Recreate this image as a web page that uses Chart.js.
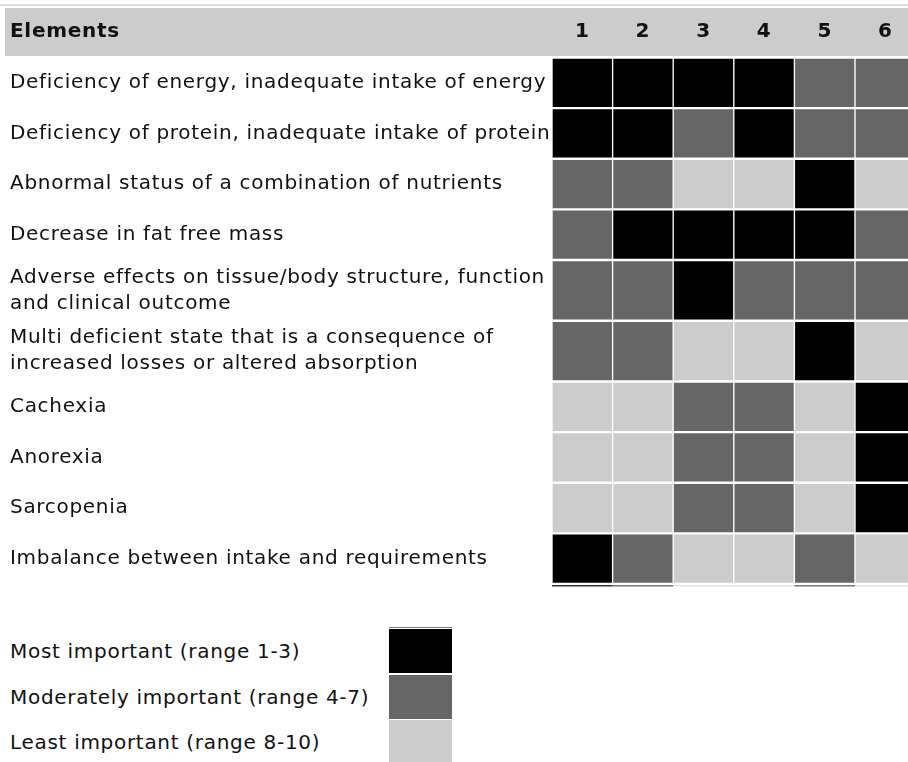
<!DOCTYPE html>
<html>
<head>
<meta charset="utf-8">
<script src="https://cdn.jsdelivr.net/npm/chart.js@4.4.1/dist/chart.umd.min.js"></script>
<style>
  html, body { margin: 0; padding: 0; background: #fff; overflow: hidden; }
  body { width: 908px; height: 762px; position: relative; font-family: "DejaVu Sans", Verdana, sans-serif; color: #111; }
  #wrap { position: absolute; left: 0; top: 0; width: 920px; height: 600px; }
  .legend { position: absolute; left: 0; top: 627px; width: 908px; }
  .legend .topline { position: absolute; left: 389px; top: 0; width: 63px; height: 1px; background: #777; }
  .item { position: absolute; left: 0; width: 908px; height: 44px; }
  .item span { position: absolute; left: 10px; top: 0; line-height: 44px; font-size: 20px; letter-spacing: 0.7px; white-space: nowrap; }
  .item i { position: absolute; left: 389px; top: 0; width: 63px; height: 44px; }
</style>
</head>
<body>
<div id="wrap"><canvas id="grid" width="920" height="600"></canvas></div>
<div class="legend" id="legend"><div class="topline"></div></div>
<script>
// rows of the table
const elements = [
  'Deficiency of energy, inadequate intake of energy',
  'Deficiency of protein, inadequate intake of protein',
  'Abnormal status of a combination of nutrients',
  'Decrease in fat free mass',
  ['Adverse effects on tissue/body structure, function', 'and clinical outcome'],
  ['Multi deficient state that is a consequence of', 'increased losses or altered absorption'],
  'Cachexia',
  'Anorexia',
  'Sarcopenia',
  'Imbalance between intake and requirements'
];
const columns = ['1', '2', '3', '4', '5', '6'];

// importance class per element, one array per column (1 = most, 2 = moderate, 3 = least)
const col1 = [1, 1, 2, 2, 2, 2, 3, 3, 3, 1];
const col2 = [1, 1, 2, 1, 2, 2, 3, 3, 3, 2];
const col3 = [1, 2, 3, 1, 1, 3, 2, 2, 2, 3];
const col4 = [1, 1, 3, 1, 2, 3, 2, 2, 2, 3];
const col5 = [2, 2, 1, 1, 2, 1, 3, 3, 3, 2];
const col6 = [2, 2, 3, 2, 2, 3, 1, 1, 1, 3];

const legendLabels = ['Most important (range 1-3)', 'Moderately important (range 4-7)', 'Least important (range 8-10)'];
const shades = { 1: '#000000', 2: '#666666', 3: '#cccccc' };
const edges = { 1: '#333333', 2: '#777777', 3: '#e4e4e4' };

const ranks = [col1, col2, col3, col4, col5, col6];
const FONT = '"DejaVu Sans", Verdana, sans-serif';
const SPACING = '0.7px';

// two-line rows are a bit taller
const weights = elements.map(e => Array.isArray(e) ? 1.2 : 1);
const total = weights.reduce((a, b) => a + b, 0);
const centers = [];
let acc = 0;
weights.forEach(w => { centers.push(acc + w / 2); acc += w; });

const datasets = elements.map((name, r) => ({
  label: Array.isArray(name) ? name.join(' ') : name,
  data: columns.map(() => weights[r]),
  backgroundColor: ranks.map(col => shades[col[r]]),
  borderColor: '#ffffff',
  borderWidth: { top: 1.5, bottom: 1.5, left: 1, right: 1 },
  borderSkipped: false,
  barPercentage: 1,
  categoryPercentage: 1
}));

const headerBand = {
  id: 'headerBand',
  beforeDraw(chart) {
    const ctx = chart.ctx;
    ctx.letterSpacing = SPACING;
    ctx.save();
    ctx.fillStyle = '#dddddd';
    ctx.fillRect(0, 4, 920, 2);
    ctx.fillStyle = '#cccccc';
    ctx.fillRect(5, 8, 915, 48);
    ctx.fillStyle = '#111111';
    ctx.font = 'bold 20px ' + FONT;
    ctx.textBaseline = 'middle';
    ctx.textAlign = 'left';
    ctx.fillText('Elements', 10, 32);
    ctx.restore();
  },
  afterDatasetsDraw(chart) {
    // thin rule under the last row, tinted like the cell above it
    const last = chart.data.datasets.length - 1;
    const meta = chart.getDatasetMeta(last);
    const ctx = chart.ctx;
    ctx.save();
    meta.data.forEach((bar, c) => {
      const { x, y, base, width } = bar.getProps(['x', 'y', 'base', 'width'], true);
      ctx.fillStyle = edges[ranks[c][last]];
      ctx.fillRect(x - width / 2, Math.max(y, base) + 1, width, 1.5);
    });
    ctx.restore();
  }
};

new Chart(document.getElementById('grid').getContext('2d'), {
  type: 'bar',
  data: { labels: columns, datasets },
  plugins: [headerBand],
  options: {
    responsive: false,
    animation: false,
    layout: { padding: { left: 10, right: 4.4, top: 0, bottom: 12.5 } },
    plugins: { legend: { display: false }, tooltip: { enabled: false } },
    scales: {
      x: {
        position: 'top',
        stacked: true,
        grid: { display: false, drawTicks: false },
        border: { display: false },
        ticks: { color: '#111', padding: 14, font: { family: FONT, size: 20, weight: 'bold' } },
        afterFit: s => { s.height = 57.5; }
      },
      y: {
        stacked: true,
        reverse: true,
        min: 0,
        max: total,
        grid: { display: false, drawTicks: false },
        border: { display: false },
        afterBuildTicks: s => { s.ticks = centers.map(v => ({ value: v })); },
        ticks: {
          autoSkip: false,
          crossAlign: 'far',
          color: '#111',
          font: { family: FONT, size: 20, lineHeight: 1.3 },
          callback: (v, i) => elements[i]
        },
        afterFit: s => { s.width = 542; }
      }
    }
  }
});

// legend
const legend = document.getElementById('legend');
legendLabels.forEach((txt, i) => {
  const row = document.createElement('div');
  row.className = 'item';
  row.style.top = (2 + i * 45.5) + 'px';
  const span = document.createElement('span');
  span.textContent = txt;
  const box = document.createElement('i');
  box.style.background = shades[i + 1];
  row.appendChild(span);
  row.appendChild(box);
  legend.appendChild(row);
});
</script>
</body>
</html>
